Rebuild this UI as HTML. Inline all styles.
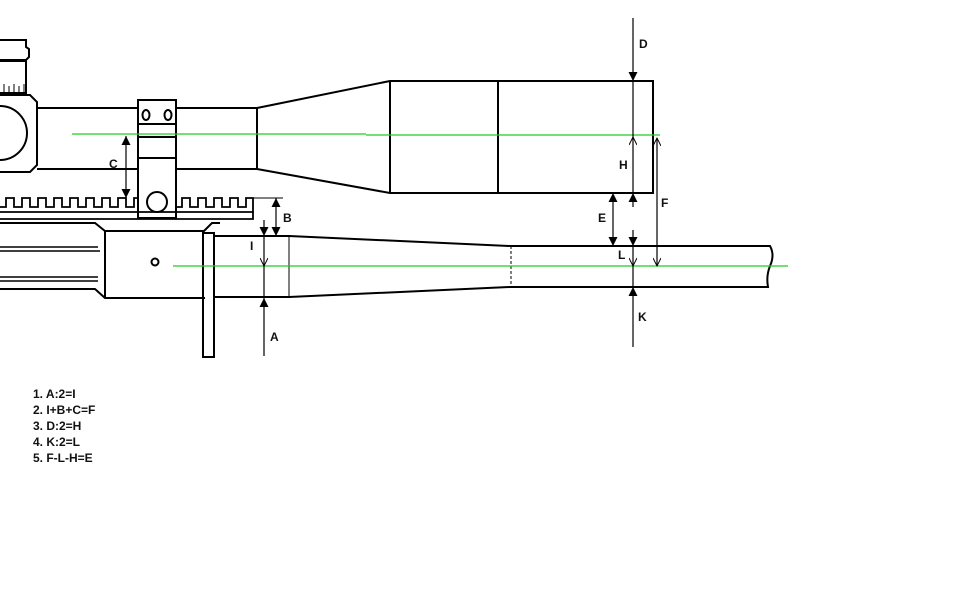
<!DOCTYPE html>
<html><head><style>
body{margin:0;background:#fff;width:959px;height:613px;overflow:hidden}
svg{display:block}
text{font-family:"Liberation Sans",sans-serif;font-weight:bold;font-size:12px;fill:#111}
</style></head><body>
<svg width="959" height="613" viewBox="0 0 959 613" xmlns="http://www.w3.org/2000/svg">
<defs>
<marker id="fa" viewBox="0 0 10 10" refX="10" refY="5" markerWidth="12" markerHeight="9" orient="auto-start-reverse" markerUnits="userSpaceOnUse"><path d="M0,0 L10,5 L0,10 z" fill="#000"/></marker>
<marker id="oa" viewBox="0 0 10 10" refX="10" refY="5" markerWidth="9" markerHeight="8" orient="auto-start-reverse" markerUnits="userSpaceOnUse"><path d="M0,0 L10,5 L0,10" fill="none" stroke="#000" stroke-width="1.2"/></marker>
</defs>
<g fill="none" stroke="#000" stroke-width="2">
<path d="M0,40 H26 V47 L29,49 V57 L26,60 H0"/>
<rect x="-2" y="61" width="28" height="32"/>
<path d="M4,93 V84 M9,93 V86 M14,93 V84 M19,93 V86 M24,93 V84" stroke-width="1"/>
<path d="M0,95 H30 L37,102 V165 L30,172 H0"/>
<circle cx="0" cy="133" r="27"/>
<path d="M37,108 H257 V169 H37"/>
<path d="M257,108 L390,81 H653 V193 H390 L257,169"/>
<path d="M390,81 V193 M498,81 V193"/>
<rect x="138" y="100" width="38" height="118" fill="#fff"/>
<path d="M138,124 H176 M138,137 H176 M138,158 H176"/>
<ellipse cx="146" cy="115" rx="3.5" ry="5"/><ellipse cx="168" cy="115" rx="3.5" ry="5"/>
<circle cx="157" cy="202" r="10"/>
<path d="M0,207 H6 V198 H14 V207 H22 V198 H30 V207 H38 V198 H46 V207 H54 V198 H62 V207 H70 V198 H78 V207 H86 V198 H94 V207 H102 V198 H110 V207 H118 V198 H126 V207 H134 V198 H138" stroke-width="1.8"/>
<path d="M176,207 H182 V198 H190 V207 H198 V198 H206 V207 H214 V198 H222 V207 H230 V198 H238 V207 H246 V198 H253 V212 H0" stroke-width="1.8"/>
<path d="M253,198 H283" stroke-width="1"/>
<path d="M0,219 H253 V212" stroke-width="1.8"/>
<path d="M0,223 H95 L105,231 H204 L212,223 H220"/>
<path d="M0,247 H98 M0,251 H100 M0,277 H98 M0,281 H98" stroke-width="1.6"/>
<path d="M0,289 H95 L105,298 H205"/>
<path d="M105,231 V298"/>
<circle cx="155" cy="262" r="3.5"/>
<rect x="203" y="233" width="11" height="124"/>
<path d="M214,236 H289 L510,246 H770 Q775,255 770,266 Q766,276 768,287 H510 L289,297 H214"/>
<path d="M289,236 V297" stroke-width="1"/>
<path d="M511,246 V287" stroke-width="1" stroke-dasharray="3,2"/>
</g>
<path d="M72,134 H366 M366,135 H660" stroke="#2c2" stroke-width="1.2"/>
<path d="M173,266 H788" stroke="#2c2" stroke-width="1.2"/>
<g stroke="#000" stroke-width="1.2" fill="none">
<line x1="126" y1="136" x2="126" y2="198" marker-start="url(#fa)" marker-end="url(#fa)"/>
<line x1="276" y1="198" x2="276" y2="236" marker-start="url(#fa)" marker-end="url(#fa)"/>
<line x1="264" y1="220" x2="264" y2="236" marker-end="url(#fa)"/>
<line x1="264" y1="236" x2="264" y2="266" marker-end="url(#oa)"/>
<line x1="264" y1="356" x2="264" y2="298" marker-end="url(#fa)"/>
<line x1="264" y1="266" x2="264" y2="298"/>
<line x1="633" y1="18" x2="633" y2="81" marker-end="url(#fa)"/>
<line x1="633" y1="81" x2="633" y2="137"/>
<line x1="633" y1="193" x2="633" y2="137" marker-end="url(#oa)"/>
<line x1="633" y1="207" x2="633" y2="193" marker-end="url(#fa)"/>
<line x1="633" y1="230" x2="633" y2="246" marker-end="url(#fa)"/>
<line x1="633" y1="246" x2="633" y2="266" marker-end="url(#oa)"/>
<line x1="633" y1="266" x2="633" y2="287"/>
<line x1="633" y1="347" x2="633" y2="287" marker-end="url(#fa)"/>
<line x1="613" y1="193" x2="613" y2="246" marker-start="url(#fa)" marker-end="url(#fa)"/>
<line x1="657" y1="138" x2="657" y2="266" marker-start="url(#oa)" marker-end="url(#oa)"/>
</g>
<text x="109" y="168">C</text>
<text x="283" y="222">B</text>
<text x="250" y="250">I</text>
<text x="270" y="341">A</text>
<text x="639" y="48">D</text>
<text x="619" y="169">H</text>
<text x="598" y="222">E</text>
<text x="661" y="207">F</text>
<text x="618" y="259">L</text>
<text x="638" y="321">K</text>
<text x="33" y="398" font-size="11.5">1. A:2=I</text>
<text x="33" y="414" font-size="11.5">2. I+B+C=F</text>
<text x="33" y="430" font-size="11.5">3. D:2=H</text>
<text x="33" y="446" font-size="11.5">4. K:2=L</text>
<text x="33" y="462" font-size="11.5">5. F-L-H=E</text>
</svg>
</body></html>
